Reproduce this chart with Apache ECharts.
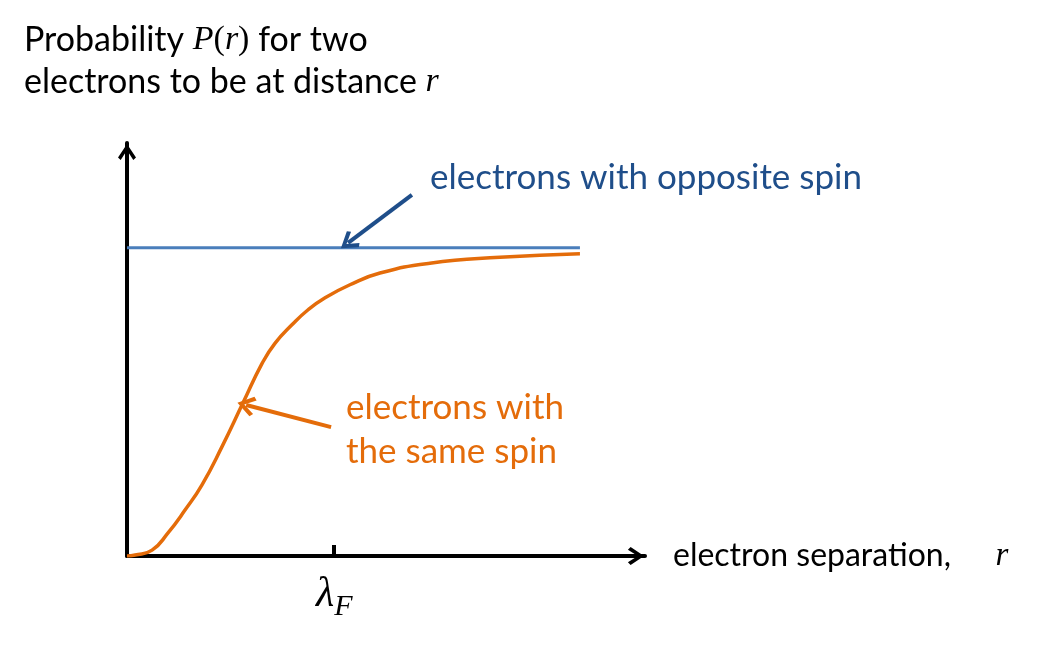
<!DOCTYPE html>
<html>
<head>
<meta charset="utf-8">
<script src="https://cdn.jsdelivr.net/npm/echarts@6/dist/echarts.min.js"></script>
<style>
  html, body { margin: 0; padding: 0; background: #fff; }
  #chart { width: 1054px; height: 647px; }
</style>
</head>
<body>
<div id="chart"></div>
<script>
// r in units of lambda_F, P(r) normalised so opposite spin = 1
var sameSpinR = [0, 0.039, 0.121, 0.198, 0.28, 0.362, 0.458, 0.56, 0.652, 0.714, 0.796, 0.874, 0.956, 1.076, 1.221, 1.462, 1.8, 2.186];
var sameSpinP = [0, 0.003, 0.019, 0.075, 0.149, 0.231, 0.354, 0.497, 0.625, 0.69, 0.75, 0.799, 0.838, 0.88, 0.918, 0.95, 0.969, 0.981];
var oppositeR = [0, 2.186];
var oppositeP = [1, 1];
var lambdaF = 1;
// arrows from labels to curves: [from, to] in data units
var blueArrow = [[1.375, 1.172], [1.067, 1.016]];
var orangeArrow = [[0.985, 0.418], [0.575, 0.49]];

var fontSans = "Lato, 'Open Sans', sans-serif";
var blueText = "#1f4e8a";
var orangeC = "#e46c0a";
var blueLine = "#4a7ebb";

// open chevron, pointing up
var chevron = "path://M10,0 L20,15 L17,18 L10,7 L3,18 L0,15 Z";

function zip(a, b) {
  return a.map(function (v, i) { return [v, b[i]]; });
}

var chart = echarts.init(document.getElementById("chart"));
var option = {
  animation: false,
  backgroundColor: "#fff",
  title: {
    left: 19,
    top: 14,
    text: "Probability {it|P}{p|(}{it|r}{p|)} for two\nelectrons to be at distance {it|r}",
    textStyle: {
      fontFamily: fontSans,
      fontSize: 34,
      fontWeight: "normal",
      color: "#000",
      lineHeight: 42,
      rich: {
        it: { fontFamily: "'Liberation Serif', serif", fontStyle: "italic", fontSize: 34, color: "#000", lineHeight: 42 },
        p: { fontFamily: "'Liberation Serif', serif", fontSize: 34, color: "#000", lineHeight: 42 }
      }
    }
  },
  grid: { left: 127, right: 409, top: 143, bottom: 91, containLabel: false },
  xAxis: {
    type: "value",
    min: 0,
    max: 2.5,
    interval: 0.5,
    splitLine: { show: false },
    axisLine: {
      lineStyle: { color: "#000", width: 4 },
      symbol: ["none", chevron],
      symbolSize: [18, 18],
      symbolOffset: [0, -9]
    },
    axisTick: {
      show: true,
      inside: true,
      length: 11,
      customValues: [lambdaF],
      lineStyle: { color: "#000", width: 4 }
    },
    axisLabel: {
      show: true,
      customValues: [lambdaF],
      margin: 12,
      formatter: function () { return "{l|λ}{f|F}"; },
      rich: {
        l: { fontFamily: "'Liberation Serif', 'DejaVu Serif', serif", fontStyle: "italic", fontSize: 42, color: "#000" },
        f: { fontFamily: "'Liberation Serif', serif", fontStyle: "italic", fontSize: 30, color: "#000", padding: [24, 0, 0, 0] }
      }
    },
    name: "electron separation,   {it|r}",
    nameLocation: "end",
    nameGap: 28,
    nameTextStyle: {
      fontFamily: fontSans,
      fontSize: 32,
      color: "#000",
      align: "left",
      verticalAlign: "middle",
      rich: {
        it: { fontFamily: "'Liberation Serif', serif", fontStyle: "italic", fontSize: 33, color: "#000", padding: [0, 0, 0, 20] }
      }
    }
  },
  yAxis: {
    type: "value",
    min: 0,
    max: 1.34,
    splitLine: { show: false },
    axisTick: { show: false },
    axisLabel: { show: false },
    axisLine: {
      lineStyle: { color: "#000", width: 4 },
      symbol: ["none", chevron],
      symbolSize: [18, 18],
      symbolOffset: [0, -9]
    }
  },
  graphic: [
    {
      type: "text",
      left: 430,
      top: 160,
      style: { text: "electrons with opposite spin", font: "35px " + fontSans, fill: blueText }
    },
    {
      type: "text",
      left: 346,
      top: 386,
      style: { text: "electrons with\nthe same spin", font: "35px " + fontSans, fill: orangeC, lineHeight: 44 }
    }
  ],
  series: [
    {
      name: "opposite spin",
      type: "line",
      data: zip(oppositeR, oppositeP),
      showSymbol: false,
      lineStyle: { color: blueLine, width: 3 },
      z: 3,
      markLine: {
        silent: true,
        symbol: ["none", chevron],
        symbolSize: [20, 18],
        label: { show: false },
        lineStyle: { color: blueText, width: 4, type: "solid" },
        data: [[{ coord: blueArrow[0] }, { coord: blueArrow[1] }]]
      }
    },
    {
      name: "same spin",
      type: "line",
      data: zip(sameSpinR, sameSpinP),
      smooth: 0.5,
      showSymbol: false,
      lineStyle: { color: orangeC, width: 3.5 },
      z: 2,
      markLine: {
        silent: true,
        symbol: ["none", chevron],
        symbolSize: [20, 18],
        label: { show: false },
        lineStyle: { color: orangeC, width: 4, type: "solid" },
        data: [[{ coord: orangeArrow[0] }, { coord: orangeArrow[1] }]]
      }
    }
  ]
};
chart.setOption(option);
</script>
</body>
</html>
